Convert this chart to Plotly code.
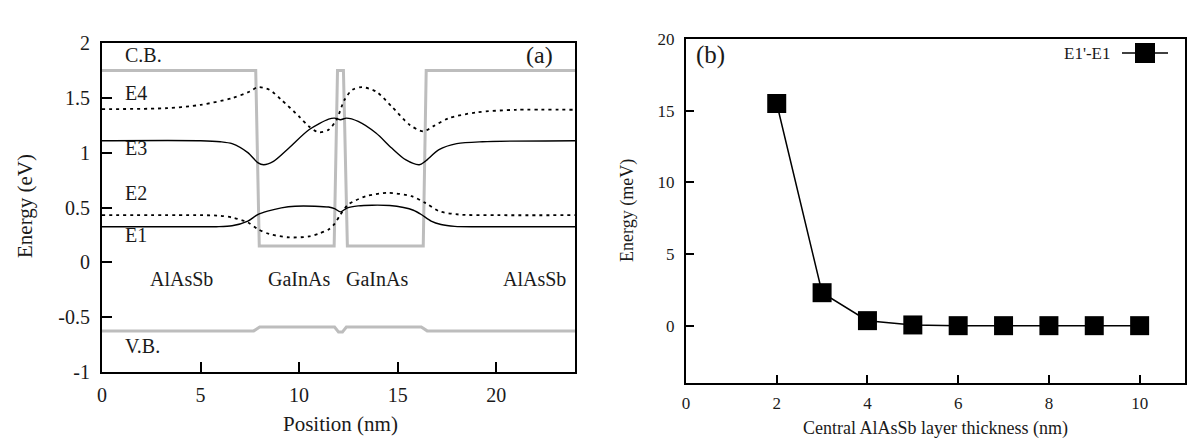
import plotly.graph_objects as go

# ---------------- Panel (a) data ----------------
cb_x = [0, 7.8, 7.98, 11.78, 11.95, 12.25, 12.45, 16.3, 16.45, 24]
cb_y = [1.75, 1.75, 0.15, 0.15, 1.75, 1.75, 0.15, 0.15, 1.75, 1.75]

vb_x = [0, 7.7, 8.0, 11.8, 12.0, 12.2, 12.4, 16.2, 16.5, 24]
vb_y = [-0.625, -0.625, -0.59, -0.59, -0.635, -0.635, -0.59, -0.59, -0.625, -0.625]

e1_x = [0, 5.0, 5.8, 6.6, 7.4, 7.9, 8.4, 9.1, 9.8, 10.8, 11.5, 11.8, 12.1, 12.45, 13.0, 13.7, 14.6, 15.3, 15.8, 16.2, 16.7, 17.2, 17.9, 19.0, 24]
e1_y = [0.324, 0.324, 0.325, 0.333, 0.376, 0.436, 0.467, 0.497, 0.512, 0.512, 0.504, 0.49, 0.46, 0.497, 0.515, 0.521, 0.518, 0.5, 0.475, 0.436, 0.376, 0.345, 0.328, 0.324, 0.324]

e2_x = [0, 5.0, 6.0, 6.6, 7.4, 7.9, 8.5, 9.5, 10.5, 11.0, 11.5, 11.8, 12.1, 12.5, 13.4, 14.5, 15.7, 16.4, 17.1, 18.1, 20.1, 24]
e2_y = [0.43, 0.43, 0.425, 0.409, 0.364, 0.303, 0.258, 0.227, 0.236, 0.262, 0.3, 0.35, 0.436, 0.527, 0.603, 0.633, 0.603, 0.542, 0.467, 0.436, 0.43, 0.43]

e3_x = [0, 5.0, 6.0, 6.6, 7.4, 7.9, 8.2, 8.7, 9.5, 10.5, 11.5, 11.8, 12.1, 12.4, 13.0, 13.9, 14.7, 15.4, 16.1, 16.4, 17.1, 18.0, 19.3, 24]
e3_y = [1.109, 1.109, 1.1, 1.082, 1.0, 0.91, 0.89, 0.921, 1.045, 1.209, 1.306, 1.315, 1.3, 1.315, 1.285, 1.179, 1.042, 0.936, 0.89, 0.921, 1.027, 1.082, 1.1, 1.109]

e4_x = [0, 3.3, 5.0, 6.6, 7.5, 7.9, 8.5, 9.1, 10.0, 10.5, 11.0, 11.5, 11.9, 12.3, 12.7, 13.2, 13.9, 14.7, 15.6, 16.3, 16.8, 17.6, 19.0, 21.0, 24]
e4_y = [1.397, 1.406, 1.436, 1.497, 1.558, 1.597, 1.573, 1.482, 1.33, 1.239, 1.185, 1.209, 1.30, 1.48, 1.573, 1.597, 1.558, 1.421, 1.255, 1.194, 1.24, 1.315, 1.367, 1.391, 1.391]

a_yticks = [-1, -0.5, 0, 0.5, 1, 1.5, 2]
a_yticktext = ["-1", "-0.5", "0", "0.5", "1", "1.5", "2"]
a_xticks = [0, 5, 10, 15, 20]

# ---------------- Panel (b) data ----------------
thickness = [2, 3, 4, 5, 6, 7, 8, 9, 10]
delta_e = [15.5, 2.3, 0.35, 0.05, 0, 0, 0, 0, 0]
b_xticks = [0, 2, 4, 6, 8, 10]
b_yticks = [0, 5, 10, 15, 20]

FONT = "Liberation Serif, Times New Roman, serif"
TXT = "#1a1a1a"
GRAY = "#bdbdbd"
W, H = 1201, 445

fig = go.Figure()

fig.add_trace(go.Scatter(x=cb_x, y=cb_y, mode="lines", line=dict(color=GRAY, width=3), xaxis="x", yaxis="y"))
fig.add_trace(go.Scatter(x=vb_x, y=vb_y, mode="lines", line=dict(color=GRAY, width=3), xaxis="x", yaxis="y"))
for xs, ys, dash in [(e1_x, e1_y, "solid"), (e3_x, e3_y, "solid"), (e2_x, e2_y, "3px,4px"), (e4_x, e4_y, "3px,4px")]:
    fig.add_trace(go.Scatter(x=xs, y=ys, mode="lines",
                             line=dict(color="black", width=1.4 if dash == "solid" else 1.8, dash=dash, shape="spline", smoothing=0.8),
                             xaxis="x", yaxis="y"))

fig.add_trace(go.Scatter(x=thickness, y=delta_e, mode="lines+markers",
                         line=dict(color="black", width=1.5),
                         marker=dict(symbol="square", size=19, color="black"),
                         xaxis="x2", yaxis="y2"))

def px2paper(px, py):
    return px / W, 1 - py / H

axis_common = dict(showgrid=False, zeroline=False, showline=True, linecolor="black", linewidth=2,
                   mirror=True, ticks="inside", tickcolor="black", tickwidth=1.5, automargin=False)

fig.update_layout(
    template="none",
    width=W, height=H, margin=dict(l=0, r=0, t=0, b=0, autoexpand=False),
    paper_bgcolor="white", plot_bgcolor="white", showlegend=False,
    font=dict(family=FONT, color=TXT),
    xaxis=dict(domain=[102 / W, 575 / W], range=[0, 24], tickvals=a_xticks, ticklen=10, ticklabelstandoff=4,
               tickfont=dict(size=20, family=FONT, color=TXT), anchor="y", **axis_common),
    yaxis=dict(domain=[1 - 372 / H, 1 - 43 / H], range=[-1, 2], tickvals=a_yticks, ticktext=a_yticktext,
               ticklabelstandoff=6,
               ticklen=10, tickfont=dict(size=20, family=FONT, color=TXT), anchor="x", **axis_common),
    xaxis2=dict(domain=[686 / W, 1185 / W], range=[0, 11], tickvals=b_xticks, ticklen=8, ticklabelstandoff=4,
                tickfont=dict(size=17, family=FONT, color=TXT), anchor="y2", **axis_common),
    yaxis2=dict(domain=[1 - 383 / H, 1 - 39 / H], range=[-4, 20], tickvals=b_yticks, ticklen=8, ticklabelstandoff=6,
                tickfont=dict(size=17, family=FONT, color=TXT), anchor="x2", **axis_common),
)

ann = []
def A(text, x, y, xref="x", yref="y", size=20, xanchor="left", angle=0):
    ann.append(dict(text=text, x=x, y=y, xref=xref, yref=yref, showarrow=False, xanchor=xanchor,
                    yanchor="middle", textangle=angle, font=dict(size=size, family=FONT, color=TXT)))

# panel (a) labels
A("C.B.", 1.06, 1.89)
A("E4", 1.06, 1.545)
A("E3", 1.06, 1.045)
A("E2", 1.06, 0.636)
A("E1", 1.06, 0.25)
A("V.B.", 1.06, -0.76)
A("AlAsSb", 2.32, -0.155)
A("GaInAs", 8.33, -0.155)
A("GaInAs", 12.27, -0.155)
A("AlAsSb", 20.25, -0.155)
A("(a)", 22.2, 1.89, size=24, xanchor="center")
# axis titles (a)
px, py = px2paper(25, 206)
A("Energy (eV)", px, py, xref="paper", yref="paper", size=21, xanchor="center", angle=-90)
px, py = px2paper(340, 424)
A("Position (nm)", px, py, xref="paper", yref="paper", size=21, xanchor="center")

# panel (b) labels
A("(b)", 0.55, 18.88, xref="x2", yref="y2", size=25, xanchor="center")
px, py = px2paper(627, 211)
A("Energy (meV)", px, py, xref="paper", yref="paper", size=18, xanchor="center", angle=-90)
px, py = px2paper(935, 428)
A("Central AlAsSb layer thickness (nm)", px, py, xref="paper", yref="paper", size=18, xanchor="center")
# legend text
px, py = px2paper(1113, 53)
A("E1'-E1", px, py, xref="paper", yref="paper", size=17, xanchor="right")

fig.update_layout(annotations=ann)

# legend key (line + square)
lx0, ly = px2paper(1122, 53)
lx1, _ = px2paper(1168, 53)
sx0, sy0 = px2paper(1135, 63)
sx1, sy1 = px2paper(1155, 43)
fig.add_shape(type="line", xref="paper", yref="paper", x0=lx0, x1=lx1, y0=ly, y1=ly,
              line=dict(color="black", width=1.5))
fig.add_shape(type="rect", xref="paper", yref="paper", x0=sx0, x1=sx1, y0=sy0, y1=sy1,
              line=dict(color="black", width=0), fillcolor="black")

fig.write_html("out.html")
